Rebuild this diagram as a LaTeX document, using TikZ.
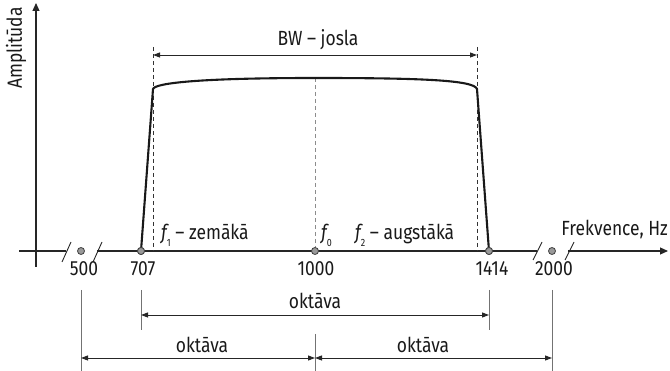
\documentclass[tikz,border=0pt]{standalone}
\usepackage{fontspec}
\setmainfont[FakeStretch=0.85]{Fira Sans}
\usetikzlibrary{arrows.meta}
\newcommand{\freqsym}[1]{{\itshape f}\raisebox{-7pt}{\fontsize{10.5}{10.5}\selectfont #1}}
\begin{document}
\begin{tikzpicture}[x=1pt,y=-1pt,
  lbl/.style={font=\fontsize{20.5}{23}\selectfont, text=black!90, inner sep=0pt},
  axisline/.style={line width=1.1pt, black!85},
  axisarrow/.style={axisline, -{Triangle[length=8pt,width=7pt]}},
  breakmark/.style={line width=0.9pt, black!85},
  respcurve/.style={line width=2.1pt, black!90, line join=round},
  guide/.style={line width=0.8pt, black!80, dash pattern=on 4pt off 3pt},
  guidegray/.style={guide, black!45},
  tickline/.style={line width=0.8pt, black!55},
  dimarrow/.style={line width=0.9pt, black!85, {Triangle[length=7pt,width=5pt]}-{Triangle[length=7pt,width=5pt]}},
  freqpt/.style={circle, minimum size=7pt, inner sep=0pt, fill=black!40, draw=black!75, line width=0.8pt}]
\useasboundingbox (0,0) rectangle (670,371);

% axes
\coordinate (xstart) at (19,251);
\coordinate (xbreakA1) at (66,251);
\coordinate (xbreakA2) at (97,251);
\coordinate (xbreakB1) at (537,251);
\coordinate (xbreakB2) at (568,251);
\coordinate (xend) at (668,251);
\coordinate (ybottom) at (36,267);
\coordinate (ytop) at (36,3);
\draw[axisline] (xstart) -- (xbreakA1);
\draw[axisline] (xbreakA2) -- (xbreakB1);
\draw[axisarrow] (xbreakB2) -- (xend);
\draw[axisarrow] (ybottom) -- (ytop);

% axis break marks
\draw[breakmark] (62,262) -- (71,242);
\draw[breakmark] (93,262) -- (102,242);
\draw[breakmark] (533,260) -- (542,242);
\draw[breakmark] (565,260) -- (574,242);

% band edges and centre
\coordinate (edgeLtop) at (153,47);
\coordinate (edgeLbot) at (153,251);
\coordinate (edgeRtop) at (477,47);
\coordinate (edgeRbot) at (477,251);
\coordinate (ctrtop) at (315,78);
\coordinate (ctrbot) at (315,251);
\draw[guide] (edgeLtop) -- (edgeLbot);
\draw[guide] (edgeRtop) -- (edgeRbot);
\draw[guidegray] (ctrtop) -- (ctrbot);

% frequency points
\node[freqpt] (p500) at (81,251) {};
\node[freqpt] (p707) at (141,251) {};
\node[freqpt] (p1000) at (315,251) {};
\node[freqpt] (p1414) at (489,251) {};
\node[freqpt] (p2000) at (552,251) {};

% response curve
\coordinate (cornerL) at (153,89);
\coordinate (cornerR) at (477,89);
\draw[respcurve] (p707.center) -- (cornerL)
  .. controls (155,83) and (200,78) .. (ctrtop)
  .. controls (420,78) and (474,80) .. (cornerR) -- (p1414.center);
\node[freqpt] at (p707) {};
\node[freqpt] at (p1414) {};

% bandwidth
\coordinate (bwL) at (153,55);
\coordinate (bwR) at (477,55);
\draw[dimarrow] (bwL) -- (bwR);
\node[lbl, anchor=base] (bwlbl) at (318,46) {BW – josla};

% axis labels
\node[lbl, rotate=90, anchor=center] (amp) at (16,48) {Amplitūda};
\node[lbl, anchor=base east] (freq) at (668,236) {Frekvence, Hz};

% tick values
\node[lbl, anchor=base] (v500) at (84,276) {500};
\node[lbl, anchor=base] (v707) at (143,276) {707};
\node[lbl, anchor=base] (v1000) at (316,276) {1000};
\node[lbl, anchor=base] (v1414) at (492,276) {1414};
\node[lbl, anchor=base] (v2000) at (554,276) {2000};

% band frequencies
\node[lbl, anchor=base west] (f1) at (161,240) {\freqsym{1} – zemākā};
\node[lbl, anchor=base west] (f0) at (321,240) {\freqsym{0}};
\node[lbl, anchor=base west] (f2) at (355,240) {\freqsym{2} – augstākā};

% octave dimensions
\coordinate (t500a) at (81,290);   \coordinate (t500b) at (81,371);
\coordinate (t707a) at (141,290);  \coordinate (t707b) at (141,330);
\coordinate (t1414a) at (489,290); \coordinate (t1414b) at (489,330);
\coordinate (t2000a) at (552,290); \coordinate (t2000b) at (552,371);
\coordinate (t1000a) at (315,334); \coordinate (t1000b) at (315,371);
\draw[tickline] (t500a) -- (t500b);
\draw[tickline] (t707a) -- (t707b);
\draw[tickline] (t1414a) -- (t1414b);
\draw[tickline] (t2000a) -- (t2000b);
\draw[tickline] (t1000a) -- (t1000b);

\coordinate (oktTopL) at (141,315);
\coordinate (oktTopR) at (489,315);
\coordinate (oktLowL) at (81,358);
\coordinate (oktLowM) at (315,358);
\coordinate (oktLowR) at (552,358);
\draw[dimarrow] (oktTopL) -- (oktTopR);
\draw[dimarrow] (oktLowL) -- (oktLowM);
\draw[dimarrow] (oktLowM) -- (oktLowR);
\node[lbl, anchor=base] (okt1) at (315,309) {oktāva};
\node[lbl, anchor=base] (okt2) at (202,353) {oktāva};
\node[lbl, anchor=base] (okt3) at (423,353) {oktāva};
\end{tikzpicture}
\end{document}
